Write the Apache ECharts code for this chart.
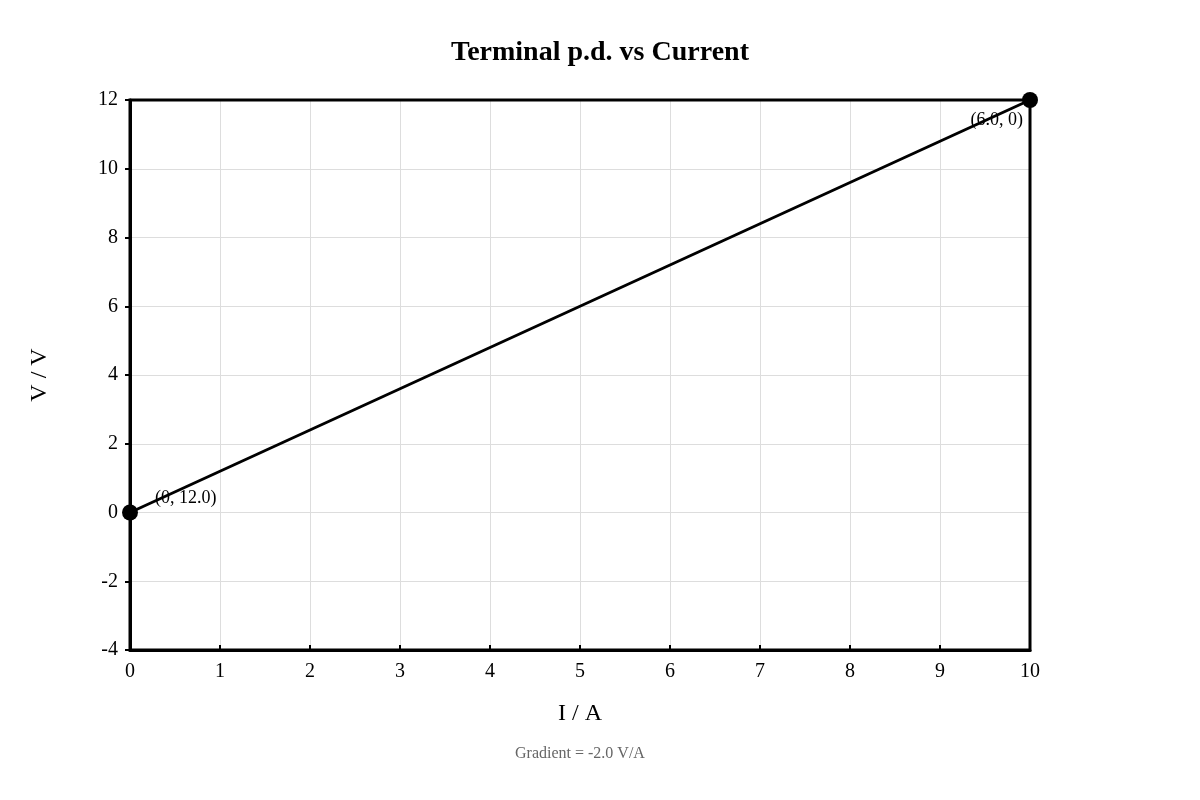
<!DOCTYPE html>
<html><head><meta charset="utf-8">
<script src="https://cdn.jsdelivr.net/npm/echarts@6/dist/echarts.min.js"></script>
<style>html,body{margin:0;padding:0;background:#fff}#c{width:1200px;height:800px}</style>
</head><body><div id="c"></div>
<script>
const linePoints = [[0, 0], [10, 12]];
const pointLabels = ['(0, 12.0)', '(6.0, 0)'];
const xTicks = [0,1,2,3,4,5,6,7,8,9,10];
const yTicks = [-4,-2,0,2,4,6,8,10,12];
const title = 'Terminal p.d. vs Current';
const note = 'Gradient = -2.0 V/A';
const F = 'Liberation Serif';
const chart = echarts.init(document.getElementById('c'));
chart.setOption({
  animation:false,
  textStyle:{fontFamily:F},
  title:{text:title,left:'center',top:34,textStyle:{fontFamily:F,fontSize:28,fontWeight:'bold',color:'#000'}},
  graphic:[{type:'text',left:515,top:746,style:{text:note,font:'16px "Liberation Serif"',fill:'#666'}}],
  grid:{left:130,right:170,top:100,bottom:150,show:true,borderColor:'#000',borderWidth:3,z:10},
  xAxis:{type:'value',min:0,max:10,interval:1,name:'I / A',nameLocation:'middle',nameGap:52,
    nameTextStyle:{fontFamily:F,fontSize:24,color:'#000'},
    axisLine:{onZero:false,lineStyle:{color:'#000',width:3}},axisTick:{show:true,length:5,inside:true,lineStyle:{color:'#000',width:2}},
    axisLabel:{fontFamily:F,fontSize:20,color:'#000',margin:12},
    splitLine:{lineStyle:{color:'#ddd'}}},
  yAxis:{type:'value',min:-4,max:12,interval:2,name:'V / V',nameLocation:'middle',nameGap:78,
    nameTextStyle:{fontFamily:F,fontSize:24,color:'#000'},
    axisLine:{onZero:false,lineStyle:{color:'#000',width:3}},axisTick:{show:true,length:5,lineStyle:{color:'#000',width:2}},
    axisLabel:{fontFamily:F,fontSize:20,color:'#000',margin:12},
    splitLine:{lineStyle:{color:'#ddd'}}},
  series:[{type:'line',symbol:'circle',symbolSize:16,z:20,
    lineStyle:{color:'#000',width:3},itemStyle:{color:'#000'},
    label:{show:true,fontFamily:F,fontSize:18,color:'#000',formatter:p=>pointLabels[p.dataIndex]},
    data:[
      {value:linePoints[0],label:{position:'right',offset:[12,-14]}},
      {value:linePoints[1],label:{position:'left',offset:[6,20]}}]}]
});
</script></body></html>
